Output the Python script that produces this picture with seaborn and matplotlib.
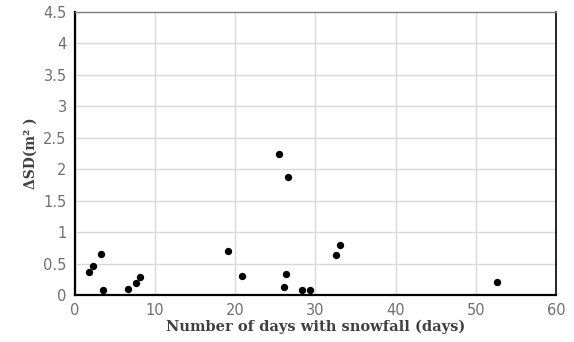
import matplotlib
matplotlib.use("Agg")
import matplotlib.pyplot as plt
import seaborn as sns
import pandas as pd

# -------------------------
# Data
# -------------------------
snow_days = [1.8, 2.3, 3.3, 3.5, 6.6, 7.6, 8.1, 19.1, 20.8, 25.5, 26.6,
             26.3, 26.1, 28.3, 29.3, 32.5, 33.1, 52.6]
delta_sd = [0.36, 0.46, 0.66, 0.08, 0.10, 0.19, 0.28, 0.70, 0.30, 2.25, 1.87,
            0.33, 0.13, 0.08, 0.08, 0.63, 0.79, 0.20]

df = pd.DataFrame({"days": snow_days, "dsd": delta_sd})

# -------------------------
# Plot
# -------------------------
sns.set_style("white")
fig = plt.figure(figsize=(5.74, 3.42), dpi=100)
ax = fig.add_axes([0.1307, 0.1374, 0.8379, 0.8275])

sns.scatterplot(data=df, x="days", y="dsd", color="black", s=28,
                edgecolor="black", linewidth=0, ax=ax, zorder=3)

ax.set_xlim(0, 60)
ax.set_ylim(0, 4.5)
ax.set_xticks(range(0, 61, 10))
ax.set_yticks([0, 0.5, 1, 1.5, 2, 2.5, 3, 3.5, 4, 4.5])
ax.set_yticklabels(["0", "0.5", "1", "1.5", "2", "2.5", "3", "3.5", "4", "4.5"])
ax.grid(True, color="#d9d9d9", linewidth=1)
ax.set_axisbelow(True)

ax.spines["left"].set_color("black")
ax.spines["bottom"].set_color("black")
ax.spines["right"].set_color("black")
ax.spines["top"].set_color("#808080")
ax.spines["left"].set_linewidth(1.6)
ax.spines["bottom"].set_linewidth(1.6)
ax.spines["right"].set_linewidth(1.2)
ax.spines["top"].set_linewidth(1.0)

ax.tick_params(axis="both", length=0, labelsize=10.5, labelcolor="#707070", pad=6)

ax.set_xlabel("Number of days with snowfall (days)", fontsize=10.5,
              fontweight="bold", family="DejaVu Serif", color="#404040", labelpad=1)
ax.set_ylabel("\u0394SD(m\u00b2 )", fontsize=10, fontweight="bold",
              family="DejaVu Serif", color="#404040", labelpad=4)

fig.savefig("out.png", dpi=100)
